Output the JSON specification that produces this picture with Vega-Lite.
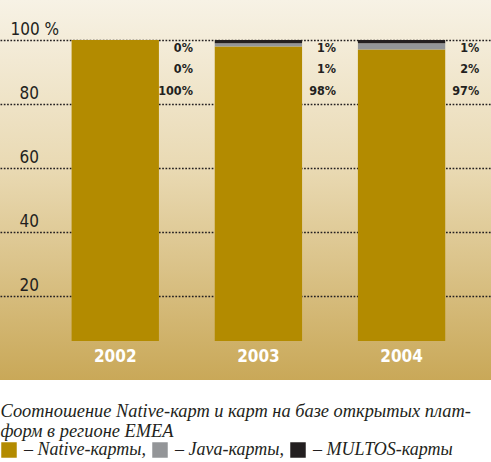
{
  "$schema": "https://vega.github.io/schema/vega-lite/v6.json",
  "width": 491,
  "height": 380,
  "padding": 0,
  "background": "white",
  "view": {
    "stroke": null,
    "fill": {
      "gradient": "linear",
      "x1": 0, "y1": 0, "x2": 0, "y2": 1,
      "stops": [
        {"offset": 0, "color": "#f7f2e5"},
        {"offset": 0.45, "color": "#e9d9b2"},
        {"offset": 1, "color": "#c9a858"}
      ]
    }
  },
  "data": {
    "values": [
      {"year": "2002", "series": "Native-карты", "share": 100},
      {"year": "2002", "series": "Java-карты", "share": 0},
      {"year": "2002", "series": "MULTOS-карты", "share": 0},
      {"year": "2003", "series": "Native-карты", "share": 98},
      {"year": "2003", "series": "Java-карты", "share": 1},
      {"year": "2003", "series": "MULTOS-карты", "share": 1},
      {"year": "2004", "series": "Native-карты", "share": 97},
      {"year": "2004", "series": "Java-карты", "share": 2},
      {"year": "2004", "series": "MULTOS-карты", "share": 1}
    ]
  },
  "transform": [
    {"calculate": "indexof(['Native-карты','Java-карты','MULTOS-карты'], datum.series)", "as": "rank"},
    {"calculate": "datum.share + '%'", "as": "label"}
  ],
  "layer": [
    {
      "mark": {"type": "bar"},
      "encoding": {
        "x": {
          "field": "year",
          "type": "nominal",
          "scale": {"paddingInner": 0.39, "paddingOuter": 0.41, "align": 0.61},
          "axis": {
            "title": ["Соотношение Native-карт и карт на базе открытых плат-", "форм в регионе EMEA"],
            "titleFont": "Liberation Serif",
            "titleFontStyle": "italic",
            "titleFontWeight": "normal",
            "titleFontSize": 18.4,
            "titleLineHeight": 20,
            "titleColor": "#231f20",
            "titleAnchor": "start",
            "titleAlign": "left",
            "titleBaseline": "top",
            "titleX": 0,
            "titleY": 21,
            "domain": false,
            "ticks": false,
            "grid": false,
            "labelAngle": 0,
            "labelPadding": -24,
            "labelBaseline": "middle",
            "labelColor": "white",
            "labelFont": "DejaVu Sans Condensed, Liberation Sans, sans-serif",
            "labelFontWeight": "bold",
            "labelFontSize": 17
          }
        },
        "y": {
          "field": "share",
          "type": "quantitative",
          "stack": "zero",
          "scale": {"domain": [5.8, 100], "range": [341, 40], "clamp": true, "nice": false, "zero": false},
          "axis": {
            "title": null,
            "values": [20, 40, 60, 80, 100],
            "domain": false,
            "ticks": false,
            "grid": true,
            "gridColor": "#231f20",
            "gridDash": [1.7, 1.6],
            "gridWidth": 1.7,
            "labelAlign": "left",
            "labelBaseline": "alphabetic",
            "labelOffset": -5.5,
            "labelPadding": {"condition": {"test": "datum.value == 100", "value": -10}, "value": -19},
            "labelExpr": "datum.value == 100 ? '100 %' : datum.label",
            "labelFont": "DejaVu Sans Condensed, Liberation Sans, sans-serif",
            "labelFontSize": 17,
            "labelColor": "#231f20"
          }
        },
        "color": {
          "field": "series",
          "type": "nominal",
          "scale": {
            "domain": ["Native-карты", "Java-карты", "MULTOS-карты"],
            "range": ["#b38b00", "#939598", "#231f20"]
          },
          "legend": {
            "orient": "none",
            "legendX": 0,
            "legendY": 441,
            "direction": "horizontal",
            "title": null,
            "symbolType": "square",
            "symbolSize": 240,
            "symbolStrokeWidth": 0,
            "symbolOpacity": 1,
            "labelFont": "Liberation Serif",
            "labelFontStyle": "italic",
            "labelFontSize": 18,
            "labelColor": "#231f20",
            "labelOffset": 6,
            "labelLimit": 300,
            "columnPadding": 5,
            "labelExpr": "datum.label == 'MULTOS-карты' ? '– ' + datum.label : '– ' + datum.label + ','"
          }
        },
        "order": {"field": "rank", "type": "quantitative"}
      }
    },
    {
      "mark": {
        "type": "text",
        "align": "right",
        "baseline": "middle",
        "dx": 34,
        "font": "DejaVu Sans Condensed, Liberation Sans, sans-serif",
        "fontWeight": "bold",
        "fontSize": 12.5,
        "color": "#231f20"
      },
      "encoding": {
        "x": {"field": "year", "type": "nominal", "bandPosition": 1},
        "y": {
          "field": "series",
          "type": "nominal",
          "scale": {
            "type": "point",
            "domain": ["MULTOS-карты", "Java-карты", "Native-карты"],
            "range": [47.5, 91],
            "padding": 0
          },
          "axis": null
        },
        "text": {"field": "label"}
      }
    }
  ],
  "resolve": {"scale": {"y": "independent"}}
}
